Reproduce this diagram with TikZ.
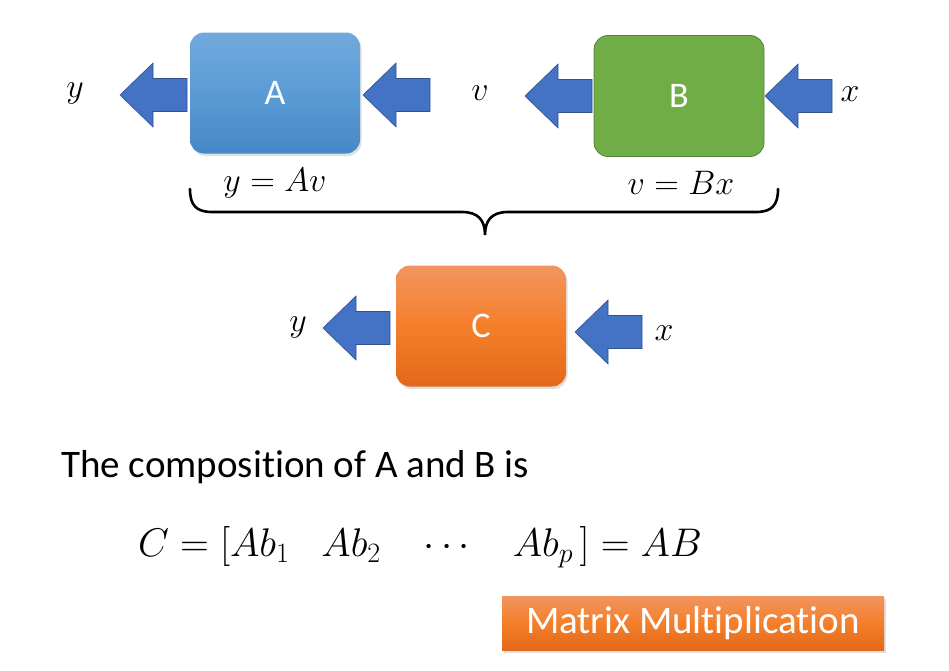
\RequirePackage{fix-cm}
\documentclass[tikz,border=0pt]{standalone}
\usepackage{fontspec}
\setmainfont[Ligatures=NoCommon]{Carlito}
\usetikzlibrary{shadows}
\definecolor{arrowblue}{HTML}{4472C4}
\definecolor{arrowedge}{HTML}{2F528F}
\definecolor{bluetop}{HTML}{72A9DD}
\definecolor{bluemid}{HTML}{5B9BD5}
\definecolor{bluebot}{HTML}{4688C6}
\definecolor{greenfill}{HTML}{70AD47}
\definecolor{greenedge}{HTML}{548235}
\definecolor{orgtop}{HTML}{F29560}
\definecolor{orgmid}{HTML}{F47F2A}
\definecolor{orgbot}{HTML}{E2691A}
\tikzset{
  softshadow/.style={drop shadow={opacity=0.25, shadow xshift=1.5pt, shadow yshift=-2.5pt}},
  procbox/.style={rounded corners=14pt, minimum width=170pt, minimum height=121pt,
    inner sep=0pt, text=white, font=\fontsize{36}{40}\selectfont},
  bluebox/.style={procbox, top color=bluetop, bottom color=bluebot, middle color=bluemid, softshadow},
  greenbox/.style={procbox, fill=greenfill, draw=greenedge, line width=0.8pt},
  orangebox/.style={procbox, top color=orgtop, bottom color=orgbot, middle color=orgmid, softshadow},
  varlabel/.style={font=\fontsize{34}{38}\selectfont, inner sep=0pt},
  blockarrow/.pic={\draw[fill=arrowblue, draw=arrowedge, line width=0.6pt]
    (0,0) -- (33,-32) -- (33,-16.5) -- (67,-16.5) -- (67,16.5) -- (33,16.5) -- (33,32) -- cycle;},
}
\begin{document}
\begin{tikzpicture}[x=1pt, y=-1pt]
\useasboundingbox (0,0) rectangle (949,670);
% top row
\node[bluebox] (A) at (275,93) {A};
\node[greenbox] (B) at (679,96) {B};
\node[varlabel] (yA) at (75,93) {$y$};
\node[varlabel] (vB) at (480,93) {$v$};
\node[varlabel] (xB) at (850,94) {$x$};
\pic at (120,95) {blockarrow};
\pic at (363,95) {blockarrow};
\pic at (525,96) {blockarrow};
\pic at (765,96) {blockarrow};
\node[varlabel] (eqA) at (275,183) {$y=Av$};
\node[varlabel] (eqB) at (681,183) {$v=Bx$};
% brace
\draw[line width=2.6pt, line cap=round] (190,189) .. controls (190,205) and (196,212) .. (212,212)
  -- (462,212) .. controls (478,212) and (485,220) .. (485,235)
  .. controls (485,220) and (492,212) .. (508,212)
  -- (756,212) .. controls (772,212) and (778,205) .. (778,189);
% C row
\node[orangebox] (C) at (481,326) {C};
\node[varlabel] (yC) at (298,327) {$y$};
\node[varlabel] (xC) at (664,333) {$x$};
\pic at (323,328) {blockarrow};
\pic at (575,332) {blockarrow};
% text
\node[anchor=west, inner sep=0pt, font=\fontsize{39}{44}\selectfont] (comp) at (61,467) {The composition of A and B is};
\node[anchor=west, inner sep=0pt, font=\fontsize{40}{46}\selectfont] (eq) at (138,547)
  {$C=[Ab_1\hspace{0.8em}Ab_2\hspace{0.9em}\cdots\hspace{0.9em}Ab_p\,]=AB$};
\node[minimum width=382pt, minimum height=54pt, inner sep=0pt,
  top color=orgtop, bottom color=orgbot, middle color=orgmid, text=white, softshadow,
  font=\fontsize{39}{44}\selectfont] (mm) at (693,623) {Matrix Multiplication};
\end{tikzpicture}
\end{document}
